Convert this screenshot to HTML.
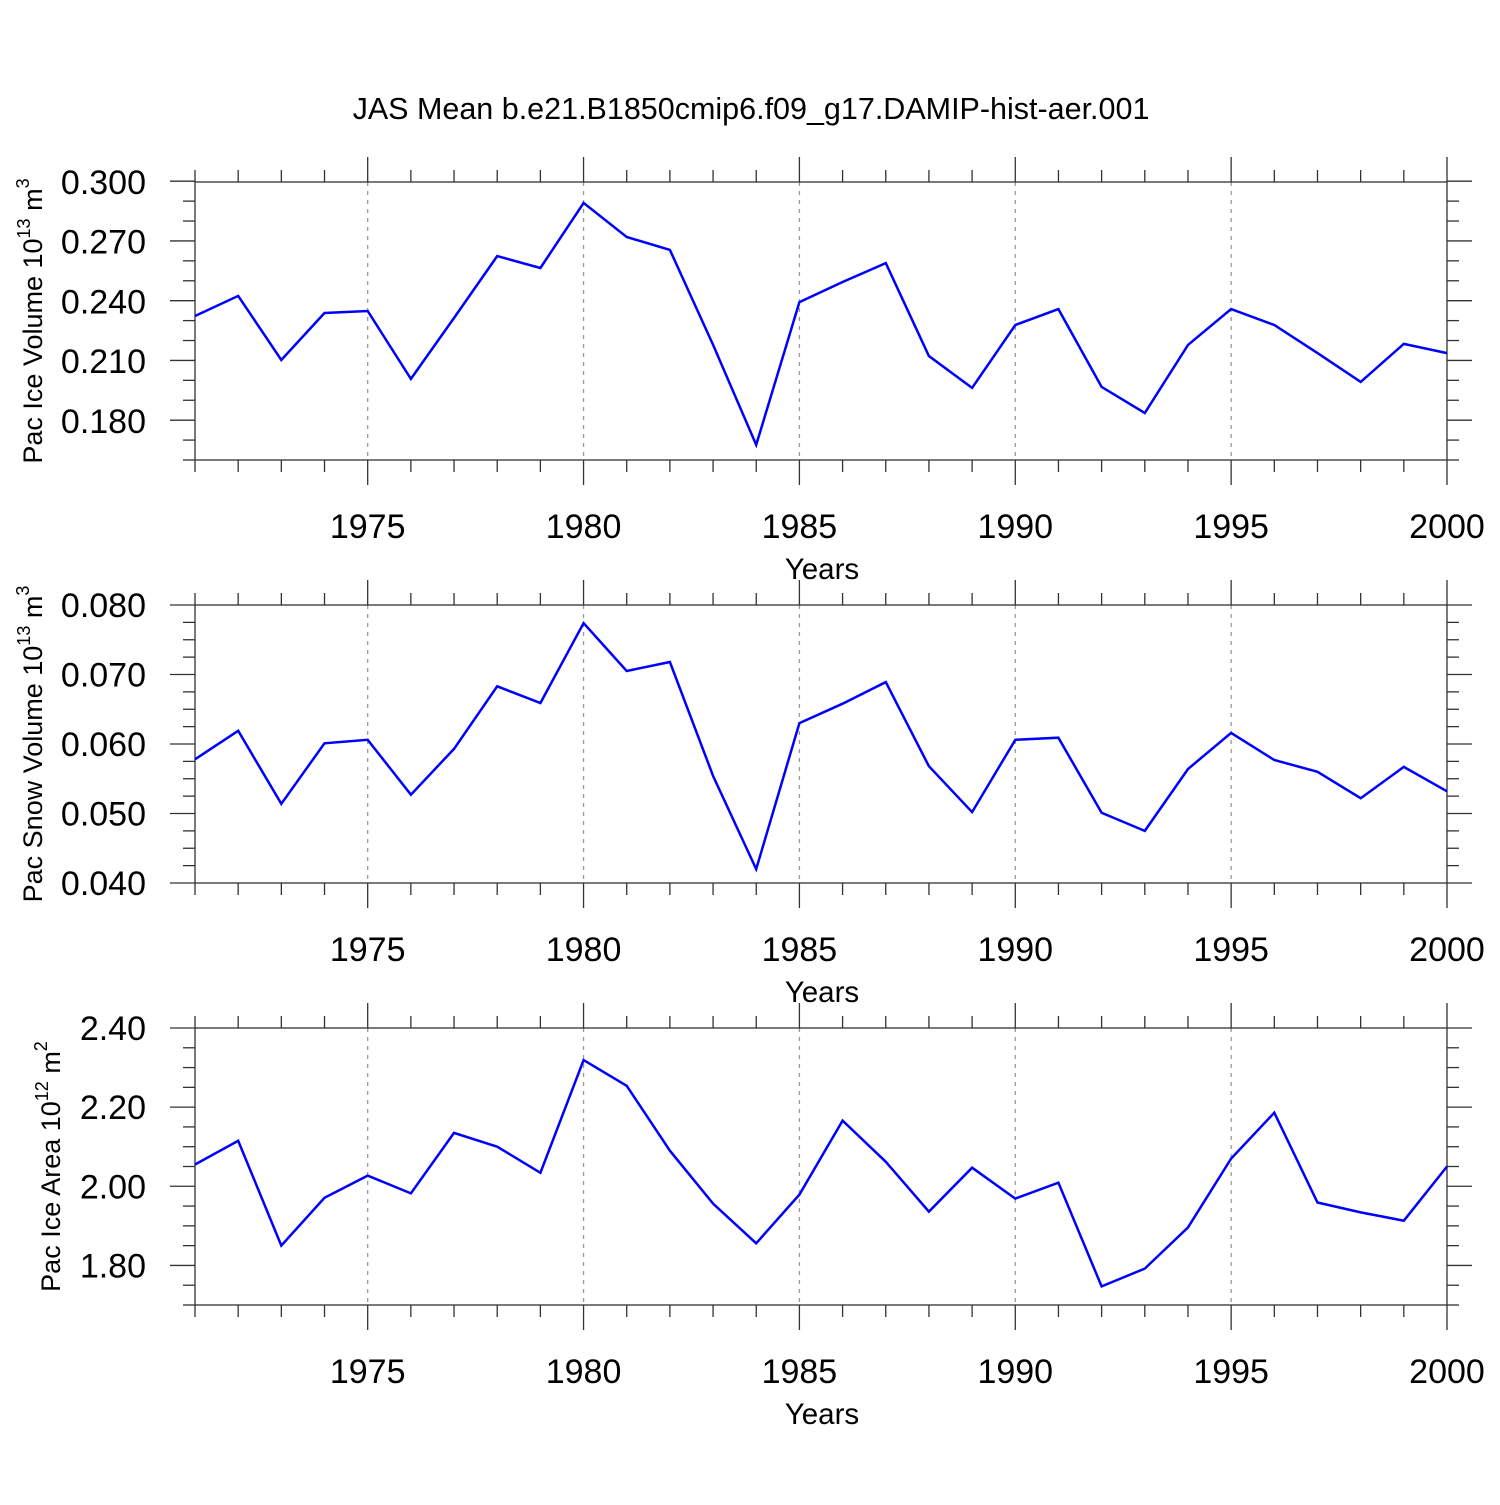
<!DOCTYPE html>
<html><head><meta charset="utf-8"><style>
html,body{margin:0;padding:0;background:#fff;}
svg text{font-family:"Liberation Sans",sans-serif;fill:#000;}
</style></head><body>
<svg id="chart" width="1500" height="1500" xmlns="http://www.w3.org/2000/svg">
<rect width="1500" height="1500" fill="#fff"/>
<text x="751" y="119" font-size="30.5" text-anchor="middle">JAS Mean b.e21.B1850cmip6.f09_g17.DAMIP-hist-aer.001</text>
</svg>
<script>
const years = [1971,1972,1973,1974,1975,1976,1977,1978,1979,1980,1981,1982,1983,1984,1985,1986,1987,1988,1989,1990,1991,1992,1993,1994,1995,1996,1997,1998,1999,2000];
const iceVolume = [0.2327,0.2428,0.2106,0.2342,0.2352,0.2011,0.2317,0.2628,0.2568,0.2895,0.2724,0.2659,0.2182,0.1680,0.2397,0.2498,0.2593,0.2126,0.1966,0.2282,0.2362,0.1971,0.1840,0.2182,0.2362,0.2282,0.2141,0.1996,0.2187,0.2141];
const snowVolume = [0.0578,0.0619,0.0514,0.0601,0.0606,0.0527,0.0593,0.0683,0.0659,0.0774,0.0705,0.0718,0.0554,0.0420,0.0630,0.0658,0.0689,0.0568,0.0502,0.0606,0.0609,0.0501,0.0475,0.0564,0.0616,0.0577,0.0560,0.0522,0.0567,0.0532];
const iceArea = [2.055,2.115,1.850,1.971,2.027,1.982,2.135,2.100,2.034,2.319,2.254,2.090,1.956,1.856,1.979,2.166,2.062,1.936,2.047,1.969,2.009,1.747,1.792,1.896,2.070,2.186,1.959,1.934,1.913,2.050];
const xTicks = [1975,1980,1985,1990,1995,2000];
const iceVolTicks = ["0.180","0.210","0.240","0.270","0.300"];
const snowVolTicks = ["0.040","0.050","0.060","0.070","0.080"];
const iceAreaTicks = ["1.80","2.00","2.20","2.40"];

const svg = document.getElementById('chart');
const NS = 'http://www.w3.org/2000/svg';
function mk(tag, attrs, parent){const e=document.createElementNS(NS,tag);for(const k in attrs)e.setAttribute(k,attrs[k]);(parent||svg).appendChild(e);return e;}

const X0=195, X1=1447, XMIN=1971, XMAX=2000;
const xs = v => X0 + (v-XMIN)/(XMAX-XMIN)*(X1-X0);

function panel(name, top, bottom, ymin, ymax, minorStep, values, ticks, titleMain, exp, unit, titleX){
  const g = mk('g',{});
  
  
  const ys = v => bottom - (v-ymin)/(ymax-ymin)*(bottom-top);
  xTicks.forEach(t=>{ if(t<XMAX){ const l=mk('line',{x1:xs(t),x2:xs(t),y1:top,y2:bottom,stroke:'#999','stroke-width':1.3,'stroke-dasharray':'4,5'},g);
    
    }});
  for(let yv=XMIN; yv<=XMAX; yv++){
    const len = (yv%5===0)?25:12;
    mk('line',{x1:xs(yv),x2:xs(yv),y1:top,y2:top-len,stroke:'#333','stroke-width':1.3},g);
    mk('line',{x1:xs(yv),x2:xs(yv),y1:bottom,y2:bottom+len,stroke:'#333','stroke-width':1.3},g);
  }
  const n = Math.round((ymax-ymin)/minorStep);
  for(let i=0;i<=n;i++){
    const v = ymin + i*minorStep;
    const isMajor = ticks.some(t=>Math.abs(parseFloat(t)-v)<minorStep/10);
    const len = isMajor?25:12;
    mk('line',{x1:X0,x2:X0-len,y1:ys(v),y2:ys(v),stroke:'#333','stroke-width':1.3},g);
    mk('line',{x1:X1,x2:X1+len,y1:ys(v),y2:ys(v),stroke:'#333','stroke-width':1.3},g);
  }
  ticks.forEach(t=>{
    const tx = mk('text',{x:146,y:ys(parseFloat(t))+12,'font-size':34,'text-anchor':'end'},g);
    
    
    tx.textContent=t;
  });
  xTicks.forEach(t=>{
    const tx = mk('text',{x:xs(t),y:bottom+78,'font-size':34,'text-anchor':'middle'},g);
    
    
    tx.textContent=t;
  });
  const xt = mk('text',{x:822,y:bottom+119,'font-size':29.5,'text-anchor':'middle'},g);
  
  
  xt.textContent='Years';
  const cy=(top+bottom)/2;
  const yt = mk('text',{x:0,y:0,'font-size':27,'text-anchor':'middle',transform:`translate(${titleX},${cy}) rotate(-90)`},g);
  
  
  const t1=document.createElementNS(NS,'tspan'); t1.textContent=titleMain+' 10'; yt.appendChild(t1);
  const t2=document.createElementNS(NS,'tspan'); t2.setAttribute('dy','-12'); t2.setAttribute('font-size','18'); t2.textContent=exp; yt.appendChild(t2);
  const t3=document.createElementNS(NS,'tspan'); t3.setAttribute('dy','12'); t3.textContent=' m'; yt.appendChild(t3);
  const t4=document.createElementNS(NS,'tspan'); t4.setAttribute('dy','-13'); t4.setAttribute('font-size','18'); t4.textContent=unit; yt.appendChild(t4);
  const fr = mk('rect',{x:X0,y:top,width:X1-X0,height:bottom-top,fill:'none',stroke:'#333','stroke-width':1.3},g);
  
  
  const pts = years.map((yr,i)=>xs(yr).toFixed(1)+','+ys(values[i]).toFixed(1)).join(' ');
  const pl = mk('polyline',{points:pts,fill:'none',stroke:'#0000ff','stroke-width':2.5,'stroke-linejoin':'miter'},g);
  
  
}
panel('ice-volume',182,460,0.1604,0.300,0.01,iceVolume,iceVolTicks,'Pac Ice Volume','13','3',42);
panel('snow-volume',605,883,0.040,0.080,0.0025,snowVolume,snowVolTicks,'Pac Snow Volume','13','3',42);
panel('ice-area',1028,1305,1.70,2.40,0.05,iceArea,iceAreaTicks,'Pac Ice Area','12','2',60);
</script>
</body></html>
